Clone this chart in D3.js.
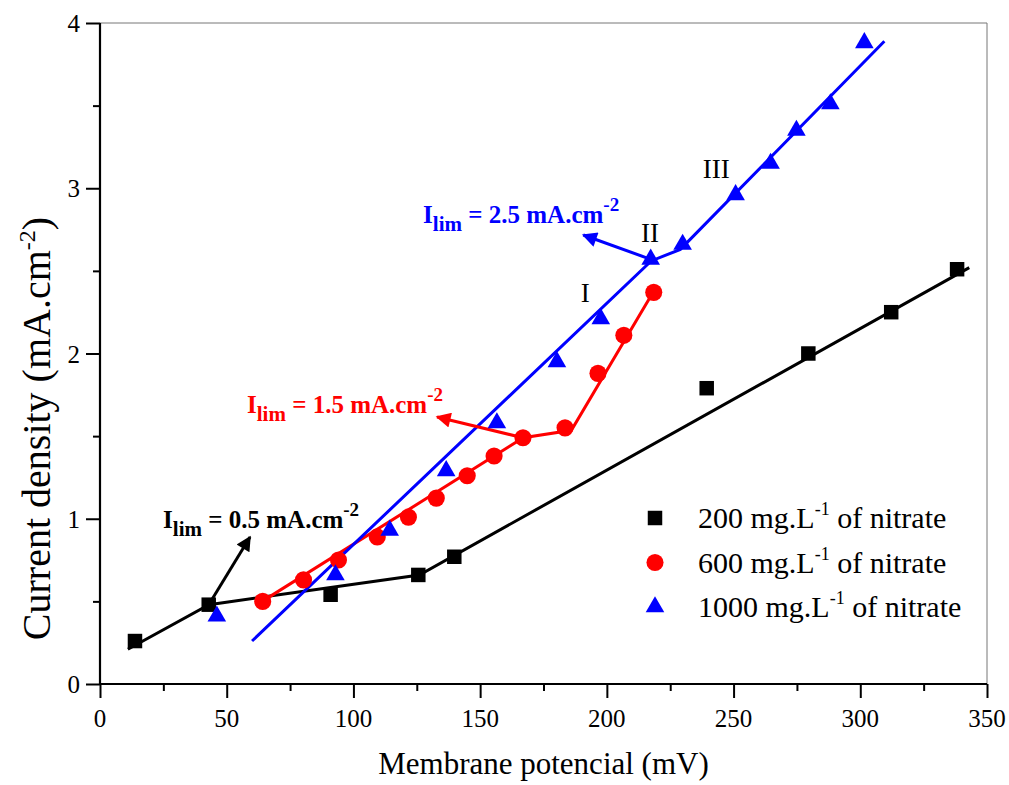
<!DOCTYPE html>
<html>
<head>
<meta charset="utf-8">
<script src="https://cdn.jsdelivr.net/npm/d3@7"></script>
<style>
  body { margin: 0; background: #fff; }
  text { font-family: "Liberation Serif", "Times New Roman", serif; }
</style>
</head>
<body>
<figure id="chart" style="margin:0"></figure>
<script>
// membrane potential (mV) and current density (mA.cm-2)
const potential200 = [13.8, 42.9, 91, 125.6, 139.8, 239.4, 279.5, 312.2, 338.2];
const current200 = [0.26, 0.48, 0.54, 0.66, 0.77, 1.79, 2.0, 2.25, 2.51];
const potential600 = [64.2, 80.3, 94.1, 109.4, 121.7, 132.7, 144.9, 155.5, 166.9, 183.5, 196.5, 206.7, 218.5];
const current600 = [0.50, 0.63, 0.75, 0.89, 1.01, 1.125, 1.26, 1.38, 1.49, 1.55, 1.88, 2.11, 2.37];
const potential1000 = [46.1, 92.9, 114.3, 136.6, 156.6, 180.3, 197.6, 217.3, 229.9, 250.8, 264.6, 274.8, 288.2, 301.6];
const current1000 = [0.41, 0.66, 0.93, 1.29, 1.58, 1.95, 2.21, 2.57, 2.66, 2.96, 3.15, 3.35, 3.51, 3.88];

// piecewise fitted lines
const fit200X = [11, 43, 126, 343];
const fit200Y = [0.21, 0.48, 0.66, 2.52];
const fit600X = [64, 167, 186, 219];
const fit600Y = [0.50, 1.49, 1.535, 2.39];
const fit1000X = [60, 217.5, 229, 309.5];
const fit1000Y = [0.26, 2.56, 2.63, 3.89];

const xTicks = [0, 50, 100, 150, 200, 250, 300, 350];
const yTicks = [0, 1, 2, 3, 4];

const seriesNames = ["200", "600", "1000"];

const width = 1009, height = 785;
const margin = { top: 23, right: 22, bottom: 101, left: 100 };

const svg = d3.select("#chart").append("svg")
  .attr("width", width)
  .attr("height", height);

const x = d3.scaleLinear().domain([0, 350]).range([margin.left, width - margin.right]);
const y = d3.scaleLinear().domain([0, 4]).range([height - margin.bottom, margin.top]);

// frame: thin grey top/right
svg.append("line")
  .attr("x1", x(0)).attr("x2", x(350)).attr("y1", y(4)).attr("y2", y(4))
  .attr("stroke", "#777").attr("stroke-width", 1);
svg.append("line")
  .attr("x1", x(350)).attr("x2", x(350)).attr("y1", y(4)).attr("y2", y(0))
  .attr("stroke", "#777").attr("stroke-width", 1);

// bottom axis
const xAxis = svg.append("g")
  .attr("transform", `translate(0,${y(0)})`)
  .call(d3.axisBottom(x).tickValues(d3.range(0, 351, 25)).tickSize(7).tickFormat(""));
xAxis.selectAll(".tick line").filter(d => d % 50 === 0).attr("y2", 14);
xAxis.selectAll(".tick line").attr("stroke-width", 2);
xAxis.select(".domain").attr("stroke-width", 2.2).attr("d", `M${x(0)},0H${x(350)}`);
svg.append("g").selectAll("text").data(xTicks).join("text")
  .attr("x", d => x(d)).attr("y", y(0) + 43)
  .attr("text-anchor", "middle")
  .attr("font-size", 25)
  .text(d => d);

// left axis
const yAxis = svg.append("g")
  .attr("transform", `translate(${x(0)},0)`)
  .call(d3.axisLeft(y).tickValues(d3.range(0, 4.01, 0.5)).tickSize(7).tickFormat(""));
yAxis.selectAll(".tick line").filter(d => Math.abs(d - Math.round(d)) < 1e-6).attr("x2", -14);
yAxis.selectAll(".tick line").attr("stroke-width", 2);
yAxis.select(".domain").attr("stroke-width", 2.2).attr("d", `M0,${y(0)}V${y(4)}`);
svg.append("g").selectAll("text").data(yTicks).join("text")
  .attr("x", x(0) - 20).attr("y", d => y(d) + 9)
  .attr("text-anchor", "end")
  .attr("font-size", 25)
  .text(d => d);

// axis titles
svg.append("text")
  .attr("x", (x(0) + x(350)) / 2)
  .attr("y", height - 11)
  .attr("text-anchor", "middle")
  .attr("font-size", 31)
  .text("Membrane potencial (mV)");

const yTitle = svg.append("text")
  .attr("transform", `translate(50,${(y(0) + y(4)) / 2 + 75}) rotate(-90)`)
  .attr("text-anchor", "middle")
  .attr("font-size", 40);
yTitle.append("tspan").text("Current density (mA.cm");
yTitle.append("tspan").attr("dy", -15).attr("font-size", 24).text("-2");
yTitle.append("tspan").attr("dy", 15).text(")");

// fitted lines
const line = d3.line().x(d => x(d[0])).y(d => y(d[1]));
const fits = [
  { xs: fit200X, ys: fit200Y, color: "#000" },
  { xs: fit600X, ys: fit600Y, color: "#ff0000" },
  { xs: fit1000X, ys: fit1000Y, color: "#0000ff" }
];
fits.forEach(f => {
  svg.append("path")
    .datum(d3.zip(f.xs, f.ys))
    .attr("d", line)
    .attr("fill", "none")
    .attr("stroke", f.color)
    .attr("stroke-width", 3);
});

// arrows
const defs = svg.append("defs");
["#000", "#ff0000", "#0000ff"].forEach((c, i) => {
  defs.append("marker")
    .attr("id", "head" + i)
    .attr("viewBox", "0 0 10 10")
    .attr("refX", 9).attr("refY", 5)
    .attr("markerWidth", 5.5).attr("markerHeight", 5)
    .attr("markerUnits", "strokeWidth")
    .attr("orient", "auto")
    .append("path").attr("d", "M0,0L10,5L0,10Z").attr("fill", c);
});
const arrows = [
  { from: [42.9, 0.48], to: [59.2, 0.89], i: 0 },
  { from: [166.9, 1.49], to: [133, 1.616], i: 1 },
  { from: [217.3, 2.57], to: [190.7, 2.717], i: 2 }
];
const arrowColors = ["#000", "#ff0000", "#0000ff"];
arrows.forEach(a => {
  svg.append("line")
    .attr("x1", x(a.from[0])).attr("y1", y(a.from[1]))
    .attr("x2", x(a.to[0])).attr("y2", y(a.to[1]))
    .attr("stroke", arrowColors[a.i])
    .attr("stroke-width", 3)
    .attr("marker-end", `url(#head${a.i})`);
});

// markers
const points = [
  { xs: potential200, ys: current200, sym: d3.symbolSquare, size: 210, color: "#000" },
  { xs: potential600, ys: current600, sym: d3.symbolCircle, size: 230, color: "#ff0000" },
  { xs: potential1000, ys: current1000, sym: d3.symbolTriangle, size: 150, color: "#0000ff" }
];
points.forEach(p => {
  svg.append("g").selectAll("path")
    .data(d3.zip(p.xs, p.ys))
    .join("path")
    .attr("transform", d => `translate(${x(d[0])},${y(d[1])})`)
    .attr("d", d3.symbol(p.sym, p.size))
    .attr("fill", p.color);
});

// Ilim labels
const ilim = [
  { at: [24.9, 0.944], value: "0.5", color: "#000" },
  { at: [58, 1.64], value: "1.5", color: "#ff0000" },
  { at: [127.5, 2.79], value: "2.5", color: "#0000ff" }
];
ilim.forEach(l => {
  const t = svg.append("text")
    .attr("x", x(l.at[0])).attr("y", y(l.at[1]))
    .attr("font-size", 25).attr("font-weight", "bold")
    .attr("fill", l.color);
  t.append("tspan").text("I");
  t.append("tspan").attr("dy", 8).attr("font-size", 21).text("lim");
  t.append("tspan").attr("dy", -8).text(` = ${l.value} mA.cm`);
  t.append("tspan").attr("dy", -12).attr("font-size", 19).text("-2");
});

// region labels
const regionNames = ["I", "II", "III"];
const regionAt = [[191.5, 2.31], [217, 2.675], [243.2, 3.06]];
svg.append("g").selectAll("text").data(regionNames).join("text")
  .attr("x", (d, i) => x(regionAt[i][0]))
  .attr("y", (d, i) => y(regionAt[i][1]))
  .attr("text-anchor", "middle")
  .attr("font-size", 27)
  .text(d => d);

// legend
const legend = svg.append("g");
points.forEach((p, i) => {
  const ly = 518 + i * 44.5;
  legend.append("path")
    .attr("transform", `translate(655,${ly})`)
    .attr("d", d3.symbol(p.sym, p.size))
    .attr("fill", p.color);
  const t = legend.append("text")
    .attr("x", 698).attr("y", ly + 10)
    .attr("font-size", 30);
  t.append("tspan").text(`${seriesNames[i]} mg.L`);
  t.append("tspan").attr("dy", -13).attr("font-size", 18).text("-1");
  t.append("tspan").attr("dy", 13).text(" of nitrate");
});
</script>
</body>
</html>
